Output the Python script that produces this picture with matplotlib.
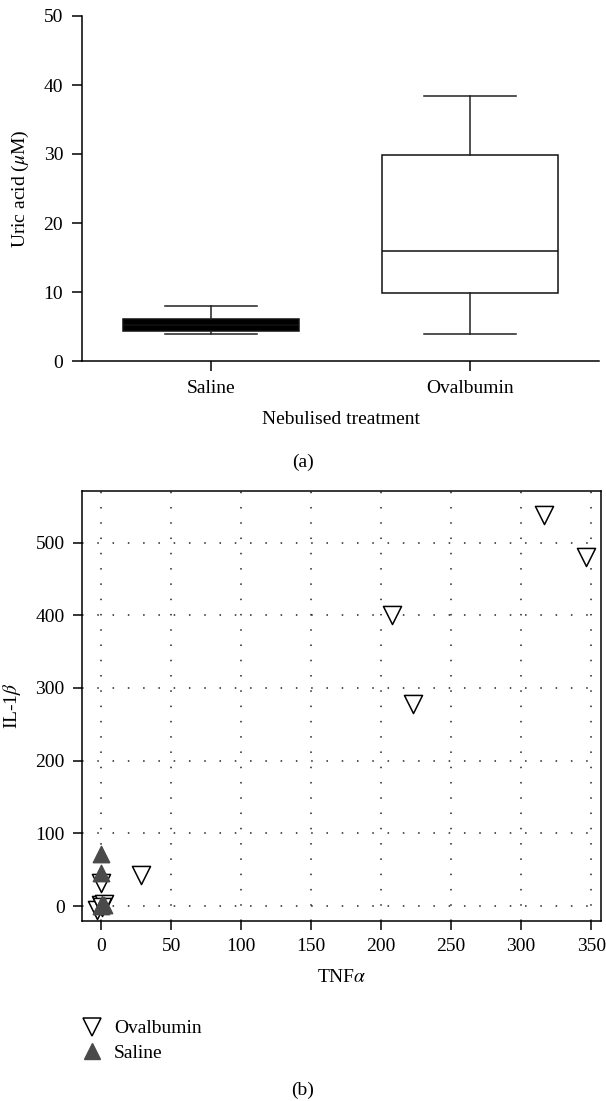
import numpy as np
import matplotlib.pyplot as plt
from matplotlib.lines import Line2D

plt.rcParams['font.family'] = ['Liberation Serif', 'DejaVu Serif']
plt.rcParams['mathtext.fontset'] = 'stix'

# (a) uric acid box plot
groups = ["Saline", "Ovalbumin"]
whis_lo = [3.9, 3.9]
q1 = [4.3, 9.85]
med = [5.2, 15.9]
q3 = [6.05, 29.9]
whis_hi = [7.95, 38.4]

# (b) TNFa vs IL-1b
ova_tnf = [316, 346.5, 208, 223, 28.5, 0, -3, 0, 2, 1]
ova_il1 = [538, 480, 401, 278, 42.5, 31, -5, 2, 3, -2]
sal_tnf = [0, 0, 1, 0, 2]
sal_il1 = [72, 45, 3, 0, 1]

W, H = 606, 1101
fig = plt.figure(figsize=(W / 100, H / 100), dpi=100)
fs = 14

def px_axes(left, top, right, bottom):
    return fig.add_axes([left / W, 1 - bottom / H, (right - left) / W, (bottom - top) / H])

# ---- panel a
ax1 = px_axes(82, 16, 599, 361)
stats = []
for i, g in enumerate(groups):
    stats.append(dict(label=g, whislo=whis_lo[i], q1=q1[i], med=med[i], q3=q3[i], whishi=whis_hi[i]))
bp = ax1.bxp(stats, positions=[1, 2], widths=0.68, capwidths=0.355, showfliers=False,
             patch_artist=True,
             boxprops=dict(linewidth=1.1, edgecolor='#111111'),
             whiskerprops=dict(linewidth=1.1, color='#222222'),
             capprops=dict(linewidth=1.1, color='#222222'),
             medianprops=dict(linewidth=1.1, color='#111111'))
bp['boxes'][0].set_facecolor('black')
bp['boxes'][1].set_facecolor('white')
ax1.set_xlim(0.5, 2.5)
ax1.set_ylim(0, 50)
ax1.set_yticks([0, 10, 20, 30, 40, 50])
ax1.spines[['top', 'right']].set_visible(False)
for s in ['left', 'bottom']:
    ax1.spines[s].set_linewidth(1.1)
ax1.tick_params(direction='out', length=7.5, width=1.1, labelsize=fs, pad=6)
ax1.set_xlabel("Nebulised treatment", fontsize=fs, labelpad=10)
ax1.set_ylabel(r"Uric acid ($\mu$M)", fontsize=fs, labelpad=9)
fig.text(303 / W, 1 - 462 / H, "(a)", ha='center', va='center', fontsize=fs)

# ---- panel b
ax2 = px_axes(82, 491, 601, 921)
ax2.scatter(ova_tnf, ova_il1, marker='v', s=170, facecolors='white', edgecolors='black',
            linewidths=1.1, zorder=3)
ax2.scatter(sal_tnf, sal_il1, marker='^', s=140, color='#4a4a4a', zorder=3)
ax2.set_xlim(-13.6, 357)
ax2.set_ylim(-20.6, 571)
ax2.set_xticks(np.arange(0, 351, 50))
ax2.set_yticks(np.arange(0, 501, 100))
ax2.grid(True, linestyle=(0, (1, 9)), color='#222222', linewidth=1.1)
ax2.set_axisbelow(True)
for s in ax2.spines.values():
    s.set_linewidth(1.1)
ax2.tick_params(direction='out', length=6.5, width=1.1, labelsize=fs, pad=6)
ax2.set_xlabel(r"TNF$\alpha$", fontsize=fs, labelpad=10)
ax2.set_ylabel(r"IL-1$\beta$", fontsize=fs, labelpad=9)

handles = [Line2D([], [], ls='none', marker='v', ms=13, mfc='white', mec='black', mew=1.1),
           Line2D([], [], ls='none', marker='^', ms=12, color='#4a4a4a')]
fig.legend(handles, ["Ovalbumin", "Saline"], loc='upper left', bbox_to_anchor=(73 / W, 1 - 1010 / H),
           frameon=False, fontsize=fs, handlelength=1.0, handletextpad=0.6, labelspacing=0.35,
           borderpad=0)
fig.text(303 / W, 1 - 1090 / H, "(b)", ha='center', va='center', fontsize=fs)

fig.savefig("out.png", dpi=100)
